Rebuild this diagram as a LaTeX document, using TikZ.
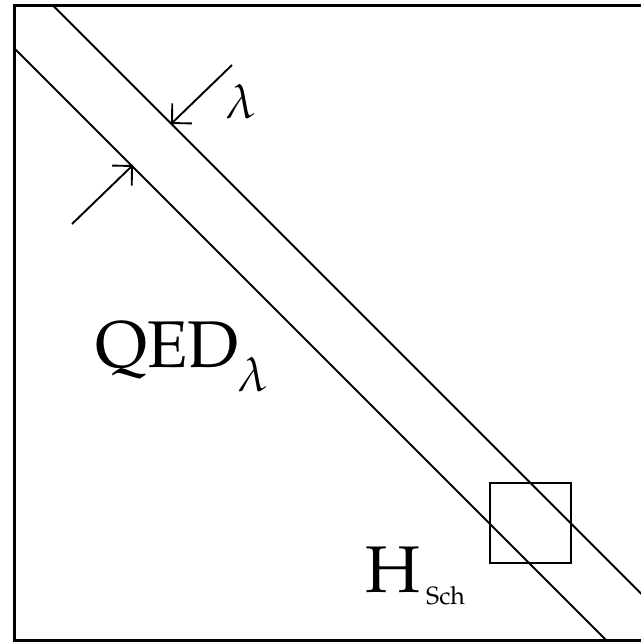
\documentclass[tikz,border=0pt]{standalone}
\usepackage[T1]{fontenc}
\usepackage{mathpazo}
\usetikzlibrary{arrows.meta}
\begin{document}
\begin{tikzpicture}[x=1pt,y=-1pt,
  edge/.style={line width=2pt},
  barb/.style={line width=1.9pt,-{Straight Barb[length=14pt,width=28pt]}},
  lbl/.style={inner sep=0pt,anchor=base west}]
\useasboundingbox (0,0) rectangle (640,642);
% frame (right side lies outside the picture)
\coordinate (ftr) at (641,5.5);
\coordinate (ftl) at (14,5.5);
\coordinate (fbl) at (14,640.5);
\coordinate (fbr) at (641,640.5);
\draw[line width=3pt] (ftr) -- (ftl) -- (fbl) -- (fbr);
% band
\coordinate (u1) at (53,5.5);
\coordinate (u2) at (690,642.5);
\coordinate (l1) at (14,48);
\coordinate (l2) at (608,642);
\draw[edge] (u1) -- (u2);
\draw[edge] (l1) -- (l2);
% arrows
\coordinate (a1s) at (232,65);
\coordinate (a1t) at (171,124);
\coordinate (a2s) at (72,224);
\coordinate (a2t) at (133,165);
\draw[barb] (a1s) -- (a1t);
\draw[barb] (a2s) -- (a2t);
% square
\node[draw,line width=1.8pt,minimum width=81pt,minimum height=80pt,inner sep=0pt] (box) at (530.5,523) {};
% labels
\node[lbl] (lam) at (226,118) {\fontsize{48}{48}\selectfont$\lambda$};
\node[lbl] (qed) at (95,367) {\fontsize{66}{66}\selectfont QED};
\node[lbl] (qedl) at (238,391) {\fontsize{48}{48}\selectfont$\lambda$};
\node[lbl] (h) at (365,592) {\fontsize{66}{66}\selectfont H};
\node[lbl] (sch) at (426,604) {\fontsize{25}{25}\selectfont Sch};
\end{tikzpicture}
\end{document}
